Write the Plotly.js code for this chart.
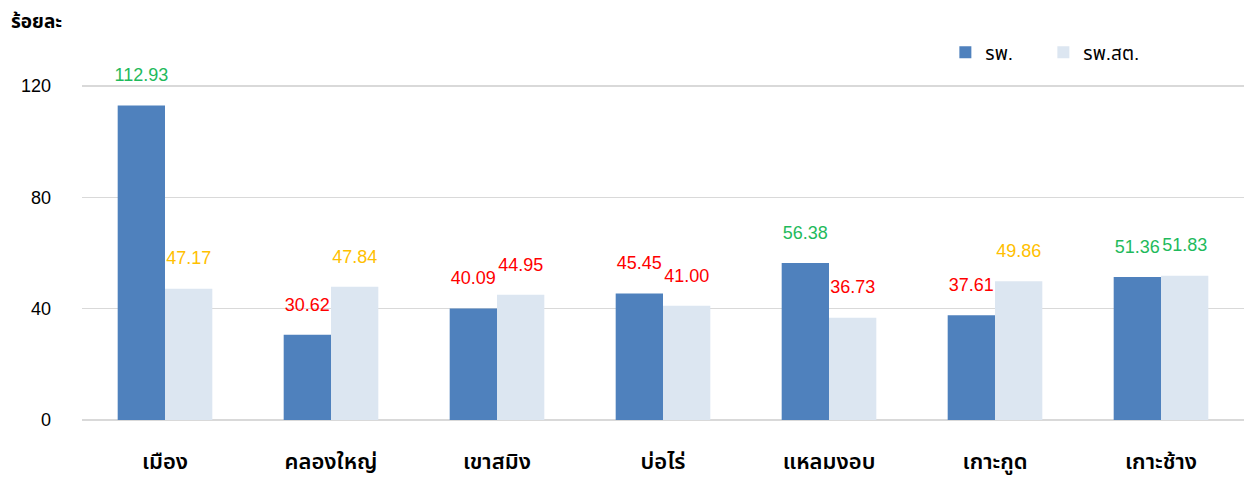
<!DOCTYPE html>
<html><head><meta charset="utf-8">
<script src="https://cdn.plot.ly/plotly-3.0.1.min.js"></script>
<style>body{margin:0;background:#fff}#c{width:1246px;height:478px}</style>
</head><body><div id="c"></div>
<script>
const categories = ["เมือง","คลองใหญ่","เขาสมิง","บ่อไร่","แหลมงอบ","เกาะกูด","เกาะช้าง"];
const hospital = [112.93,30.62,40.09,45.45,56.38,37.61,51.36];
const subdistrict = [47.17,47.84,44.95,41.00,36.73,49.86,51.83];
const seriesNames = ["รพ.","รพ.สต."];
const yTicks = [0,40,80,120];

function labelColor(v){ return v >= 50 ? "#1fba5c" : (v >= 46 ? "#ffc000" : "#ff0000"); }

const font = "'Liberation Sans', Arial, 'Noto Sans Thai', sans-serif";
const bar = (name, vals, color, g) => ({
  type:"bar", name:name, x:categories, y:vals, offsetgroup:g,
  marker:{color:color}, hoverinfo:"skip"
});
const lbl = (vals, g) => ({
  type:"scatter", mode:"markers+text", x:categories, y:vals, offsetgroup:g,
  marker:{size:30, opacity:0}, text: vals.map(v=>v.toFixed(2)), textposition:"top center",
  textfont:{size:18, color: vals.map(labelColor), family:font},
  cliponaxis:false, showlegend:false, hoverinfo:"skip"
});
const data = [
  bar(seriesNames[0], hospital, "#4f81bd", "a"),
  bar(seriesNames[1], subdistrict, "#dce6f1", "b"),
  lbl(hospital, "a"), lbl(subdistrict, "b")
];
const layout = {
  width:1246, height:478,
  margin:{l:82, r:2, t:72, b:58},
  paper_bgcolor:"#fff", plot_bgcolor:"#fff",
  barmode:"group", bargap:0.43, bargroupgap:0, scattermode:"group", scattergap:0.43,
  font:{family:font, color:"#000"},
  xaxis:{type:"category", tickfont:{size:22, color:"#000", weight:600}, ticks:"", showline:false, ticklabelstandoff:26},
  yaxis:{range:[0,125], tickvals:yTicks, tickfont:{size:18, color:"#000"}, gridcolor:"#d9d9d9", gridwidth:1.5,
         zeroline:true, zerolinecolor:"#d9d9d9", zerolinewidth:1.5, ticklabelstandoff:30, showline:false},
  legend:{orientation:"h", x:0.743, y:1.111, xanchor:"left", yanchor:"top", font:{size:19}, itemwidth:30, entrywidth:53, traceorder:"normal"},
  annotations:[{text:"<b>ร้อยละ</b>", xref:"paper", yref:"paper", x:-0.063, y:1.144, xanchor:"left", yanchor:"middle", showarrow:false, font:{size:19}}],
  showlegend:true
};
Plotly.newPlot("c", data, layout, {displayModeBar:false, staticPlot:true});
</script></body></html>
